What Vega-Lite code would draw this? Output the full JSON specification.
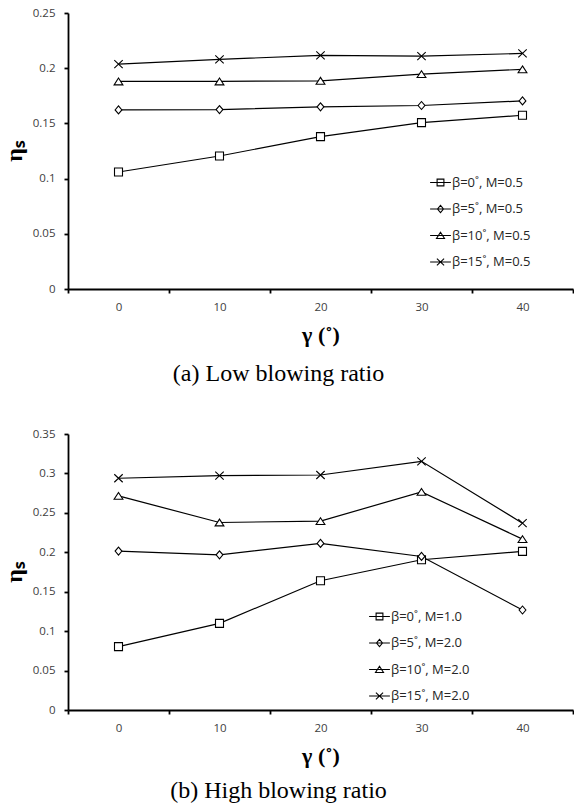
{
  "$schema": "https://vega.github.io/schema/vega-lite/v6.json",
  "padding": {"left": 2, "top": 7, "right": 0, "bottom": 0},
  "spacing": 42,
  "background": "white",
  "config": {
    "view": {"stroke": null},
    "axis": {
      "grid": false,
      "domainColor": "black",
      "domainWidth": 1.8,
      "tickColor": "black",
      "tickWidth": 1.8,
      "tickSize": 4,
      "labelFont": "Open Sans",
      "labelFontSize": 11.5,
      "labelColor": "#404040",
      "labelOverlap": false,
      "titleFont": "Liberation Serif",
      "titleFontWeight": "bold",
      "titleColor": "black"
    },
    "legend": {
      "labelFont": "Open Sans",
      "labelFontSize": 13,
      "labelColor": "#262626",
      "padding": 0,
      "rowPadding": 12.5,
      "labelOffset": 5,
      "symbolSize": 64,
      "symbolStrokeColor": "black",
      "symbolFillColor": "white",
      "symbolStrokeWidth": 1.1
    }
  },
  "datasets": {
    "low": [
      {"series": "β=0˚, M=0.5", "gamma": 0, "eta": 0.106},
      {"series": "β=0˚, M=0.5", "gamma": 10, "eta": 0.1205},
      {"series": "β=0˚, M=0.5", "gamma": 20, "eta": 0.138},
      {"series": "β=0˚, M=0.5", "gamma": 30, "eta": 0.1507},
      {"series": "β=0˚, M=0.5", "gamma": 40, "eta": 0.1574},
      {"series": "β=5˚, M=0.5", "gamma": 0, "eta": 0.1622},
      {"series": "β=5˚, M=0.5", "gamma": 10, "eta": 0.1625},
      {"series": "β=5˚, M=0.5", "gamma": 20, "eta": 0.165},
      {"series": "β=5˚, M=0.5", "gamma": 30, "eta": 0.1662},
      {"series": "β=5˚, M=0.5", "gamma": 40, "eta": 0.1704},
      {"series": "β=10˚, M=0.5", "gamma": 0, "eta": 0.188},
      {"series": "β=10˚, M=0.5", "gamma": 10, "eta": 0.188},
      {"series": "β=10˚, M=0.5", "gamma": 20, "eta": 0.1886},
      {"series": "β=10˚, M=0.5", "gamma": 30, "eta": 0.1946},
      {"series": "β=10˚, M=0.5", "gamma": 40, "eta": 0.199},
      {"series": "β=15˚, M=0.5", "gamma": 0, "eta": 0.2037},
      {"series": "β=15˚, M=0.5", "gamma": 10, "eta": 0.208},
      {"series": "β=15˚, M=0.5", "gamma": 20, "eta": 0.2116},
      {"series": "β=15˚, M=0.5", "gamma": 30, "eta": 0.211},
      {"series": "β=15˚, M=0.5", "gamma": 40, "eta": 0.2134}
    ],
    "high": [
      {"series": "β=0˚, M=1.0", "gamma": 0, "eta": 0.0804},
      {"series": "β=0˚, M=1.0", "gamma": 10, "eta": 0.1099},
      {"series": "β=0˚, M=1.0", "gamma": 20, "eta": 0.1639},
      {"series": "β=0˚, M=1.0", "gamma": 30, "eta": 0.1905},
      {"series": "β=0˚, M=1.0", "gamma": 40, "eta": 0.2011},
      {"series": "β=5˚, M=2.0", "gamma": 0, "eta": 0.2015},
      {"series": "β=5˚, M=2.0", "gamma": 10, "eta": 0.1968},
      {"series": "β=5˚, M=2.0", "gamma": 20, "eta": 0.2112},
      {"series": "β=5˚, M=2.0", "gamma": 30, "eta": 0.1947},
      {"series": "β=5˚, M=2.0", "gamma": 40, "eta": 0.1268},
      {"series": "β=10˚, M=2.0", "gamma": 0, "eta": 0.2715},
      {"series": "β=10˚, M=2.0", "gamma": 10, "eta": 0.2378},
      {"series": "β=10˚, M=2.0", "gamma": 20, "eta": 0.2395},
      {"series": "β=10˚, M=2.0", "gamma": 30, "eta": 0.2766},
      {"series": "β=10˚, M=2.0", "gamma": 40, "eta": 0.2167},
      {"series": "β=15˚, M=2.0", "gamma": 0, "eta": 0.2939},
      {"series": "β=15˚, M=2.0", "gamma": 10, "eta": 0.2973},
      {"series": "β=15˚, M=2.0", "gamma": 20, "eta": 0.298},
      {"series": "β=15˚, M=2.0", "gamma": 30, "eta": 0.3154},
      {"series": "β=15˚, M=2.0", "gamma": 40, "eta": 0.2369}
    ]
  },
  "vconcat": [
    {
      "width": 505,
      "height": 276,
      "data": {"name": "low"},
      "title": {"text": "(a) Low blowing ratio", "orient": "bottom", "font": "Liberation Serif", "fontSize": 24, "fontWeight": "normal", "color": "black", "offset": 16, "dx": -42},
      "encoding": {
        "x": {"field": "gamma", "type": "ordinal", "bandPosition": 0.5, "scale": {"type": "band", "paddingInner": 0, "paddingOuter": 0}, "axis": {"title": "γ (˚)", "titleFontSize": 22, "titlePadding": 12, "labelAngle": 0, "labelPadding": 8, "tickBand": "extent"}},
        "y": {"field": "eta", "type": "quantitative", "scale": {"domain": [0, 0.25], "nice": false}, "axis": {"title": "ηₛ", "titleFontSize": 24, "titlePadding": 6, "values": [0, 0.05, 0.1, 0.15, 0.2, 0.25], "format": "~g", "labelPadding": 9, "labelOverlap": false}}
      },
      "layer": [
        {
          "mark": {"type": "line", "color": "black", "strokeWidth": 1.2},
          "encoding": {"detail": {"field": "series"}}
        },
        {
          "mark": {"type": "point", "filled": true, "fill": "white", "stroke": "black", "strokeWidth": 1.1, "opacity": 1, "size": 64},
          "encoding": {
            "shape": {"field": "series", "type": "nominal", "legend": null,
              "scale": {"domain": ["β=0˚, M=0.5", "β=5˚, M=0.5", "β=10˚, M=0.5", "β=15˚, M=0.5"],
                "range": ["M-1,-1H1V1H-1Z", "M0,-1L0.85,0L0,1L-0.85,0Z", "M0,-0.85L1.1,0.85H-1.1Z", "M-1.05,-1L1.05,1M-1.05,1L1.05,-1"]}}
          }
        },
        {
          "transform": [{"filter": "datum.series == 'none'"}],
          "mark": {"type": "point", "filled": false, "stroke": "black", "strokeWidth": 1.1, "opacity": 1},
          "encoding": {
            "shape": {"field": "series", "type": "nominal",
              "scale": {"domain": ["β=0˚, M=0.5", "β=5˚, M=0.5", "β=10˚, M=0.5", "β=15˚, M=0.5"],
                "range": ["M-2.6,0H2.6M-0.85,-0.85H0.85V0.85H-0.85Z", "M-2.6,0H2.6M0,-0.9L0.75,0L0,0.9L-0.75,0Z", "M-2.6,0H2.6M0,-0.8L1,0.75H-1Z", "M-2.6,0H2.6M-0.9,-0.85L0.9,0.85M-0.9,0.85L0.9,-0.85"]},
              "legend": {"title": null, "orient": "none", "legendX": 366, "legendY": 163,
                "encode": {"symbols": {"update": {"stroke": {"value": "black"}, "fill": {"value": "white"}, "strokeWidth": {"value": 1.1}, "opacity": {"value": 1}, "fillOpacity": {"value": 1}, "strokeOpacity": {"value": 1}}}}}}
          }
        }
      ],
      "resolve": {"scale": {"shape": "independent"}, "legend": {"shape": "independent"}}
    },
    {
      "width": 505,
      "height": 276,
      "data": {"name": "high"},
      "title": {"text": "(b) High blowing ratio", "orient": "bottom", "font": "Liberation Serif", "fontSize": 24, "fontWeight": "normal", "color": "black", "offset": 12, "dx": -42},
      "encoding": {
        "x": {"field": "gamma", "type": "ordinal", "bandPosition": 0.5, "scale": {"type": "band", "paddingInner": 0, "paddingOuter": 0}, "axis": {"title": "γ (˚)", "titleFontSize": 22, "titlePadding": 12, "labelAngle": 0, "labelPadding": 8, "tickBand": "extent"}},
        "y": {"field": "eta", "type": "quantitative", "scale": {"domain": [0, 0.35], "nice": false}, "axis": {"title": "ηₛ", "titleFontSize": 24, "titlePadding": 6, "values": [0, 0.05, 0.1, 0.15, 0.2, 0.25, 0.3, 0.35], "format": "~g", "labelPadding": 9, "labelOverlap": false}}
      },
      "layer": [
        {
          "mark": {"type": "line", "color": "black", "strokeWidth": 1.2},
          "encoding": {"detail": {"field": "series"}}
        },
        {
          "mark": {"type": "point", "filled": true, "fill": "white", "stroke": "black", "strokeWidth": 1.1, "opacity": 1, "size": 64},
          "encoding": {
            "shape": {"field": "series", "type": "nominal", "legend": null,
              "scale": {"domain": ["β=0˚, M=1.0", "β=5˚, M=2.0", "β=10˚, M=2.0", "β=15˚, M=2.0"],
                "range": ["M-1,-1H1V1H-1Z", "M0,-1L0.85,0L0,1L-0.85,0Z", "M0,-0.85L1.1,0.85H-1.1Z", "M-1.05,-1L1.05,1M-1.05,1L1.05,-1"]}}
          }
        },
        {
          "transform": [{"filter": "datum.series == 'none'"}],
          "mark": {"type": "point", "filled": false, "stroke": "black", "strokeWidth": 1.1, "opacity": 1},
          "encoding": {
            "shape": {"field": "series", "type": "nominal",
              "scale": {"domain": ["β=0˚, M=1.0", "β=5˚, M=2.0", "β=10˚, M=2.0", "β=15˚, M=2.0"],
                "range": ["M-2.6,0H2.6M-0.85,-0.85H0.85V0.85H-0.85Z", "M-2.6,0H2.6M0,-0.9L0.75,0L0,0.9L-0.75,0Z", "M-2.6,0H2.6M0,-0.8L1,0.75H-1Z", "M-2.6,0H2.6M-0.9,-0.85L0.9,0.85M-0.9,0.85L0.9,-0.85"]},
              "legend": {"title": null, "orient": "none", "legendX": 305, "legendY": 176,
                "encode": {"symbols": {"update": {"stroke": {"value": "black"}, "fill": {"value": "white"}, "strokeWidth": {"value": 1.1}, "opacity": {"value": 1}, "fillOpacity": {"value": 1}, "strokeOpacity": {"value": 1}}}}}}
          }
        }
      ],
      "resolve": {"scale": {"shape": "independent"}, "legend": {"shape": "independent"}}
    }
  ],
  "resolve": {"scale": {"shape": "independent"}, "legend": {"shape": "independent"}}
}
